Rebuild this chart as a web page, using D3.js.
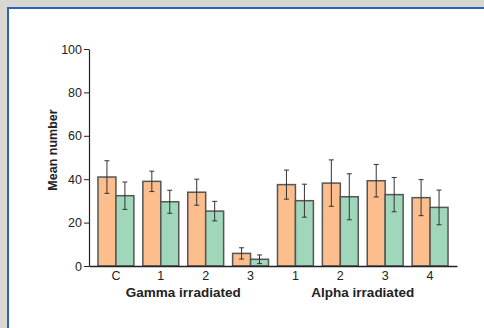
<!DOCTYPE html>
<html>
<head>
<meta charset="utf-8">
<script src="https://cdn.jsdelivr.net/npm/d3@7"></script>
<style>
  body { margin: 0; background: #d8d7d2; }
  svg { display: block; font-family: "Liberation Sans", Arial, sans-serif; }
</style>
</head>
<body>
<div id="chart"></div>
<script>
// categories along the x axis (gamma then alpha)
const categories = ["gC", "g1", "g2", "g3", "a1", "a2", "a3", "a4"];
const tickLabels = ["C", "1", "2", "3", "1", "2", "3", "4"];
const groupLabels = ["Gamma irradiated", "Alpha irradiated"];
const groupMembers = [["gC", "g1", "g2", "g3"], ["a1", "a2", "a3", "a4"]];

// series values
const orangeMean = [41, 39, 34, 5.8, 37.5, 38.2, 39.3, 31.5];
const orangeErr = [7.5, 4.7, 6, 2.6, 6.7, 10.7, 7.5, 8.3];
const greenMean = [32.4, 29.6, 25.3, 3.1, 30.1, 31.9, 32.9, 27];
const greenErr = [6.3, 5.3, 4.5, 2, 7.6, 10.6, 7.9, 8];

const yTicks = [0, 20, 40, 60, 80, 100];

const width = 484;
const height = 328;

const svg = d3.select("#chart").append("svg")
  .attr("width", width)
  .attr("height", height);

// white panel with blue frame
svg.append("rect")
  .attr("x", 8)
  .attr("y", 8)
  .attr("width", width + 10)
  .attr("height", height + 10)
  .style("fill", "#fff")
  .style("stroke", "#2b65b1")
  .style("stroke-width", 2);

const x = d3.scaleBand()
  .domain(categories)
  .range([89, 457])
  .paddingInner(0.2)
  .paddingOuter(0.2);

const sub = d3.scaleBand()
  .domain(["orange", "green"])
  .range([0, x.bandwidth()]);

const y = d3.scaleLinear()
  .domain([0, 100])
  .range([266, 49]);

const series = [
  { key: "orange", mean: orangeMean, err: orangeErr, color: "#fdbe8d" },
  { key: "green", mean: greenMean, err: greenErr, color: "#a0d7bb" }
];

// bars
series.forEach(s => {
  svg.selectAll(`.bar-${s.key}`)
    .data(categories)
    .join("rect")
    .attr("class", `bar-${s.key}`)
    .attr("x", d => x(d) + sub(s.key))
    .attr("y", (d, i) => y(s.mean[i]))
    .attr("width", sub.bandwidth())
    .attr("height", (d, i) => y(0) - y(s.mean[i]))
    .style("fill", s.color)
    .style("stroke", "#555")
    .style("stroke-width", 1.5);
});

// error bars
series.forEach(s => {
  const g = svg.selectAll(`.err-${s.key}`)
    .data(categories)
    .join("g")
    .attr("class", `err-${s.key}`)
    .attr("transform", d => `translate(${x(d) + sub(s.key) + sub.bandwidth() / 2},0)`)
    .style("stroke", "#333")
    .style("stroke-width", 1);

  g.append("line")
    .attr("y1", (d, i) => y(s.mean[i] + s.err[i]))
    .attr("y2", (d, i) => y(s.mean[i] - s.err[i]));
  g.append("line")
    .attr("x1", -2.5).attr("x2", 2.5)
    .attr("y1", (d, i) => y(s.mean[i] + s.err[i]))
    .attr("y2", (d, i) => y(s.mean[i] + s.err[i]));
  g.append("line")
    .attr("x1", -2.5).attr("x2", 2.5)
    .attr("y1", (d, i) => y(s.mean[i] - s.err[i]))
    .attr("y2", (d, i) => y(s.mean[i] - s.err[i]));
});

// y axis
const yAxis = svg.append("g")
  .attr("transform", "translate(89,0)")
  .call(d3.axisLeft(y).tickValues(yTicks).tickSize(5).tickSizeOuter(0));
yAxis.select(".domain").style("stroke", "#222").style("stroke-width", 1.2);
yAxis.selectAll(".tick line").style("stroke", "#222");
yAxis.selectAll("text")
  .style("font-size", "12.5px")
  .style("fill", "#222")
  .style("font-family", "Liberation Sans, Arial, sans-serif")
  .attr("x", -7);

// x axis
const xAxis = svg.append("g")
  .attr("transform", "translate(0,266)")
  .call(d3.axisBottom(x).tickSize(0).tickFormat((d, i) => tickLabels[i]));
xAxis.select(".domain").style("stroke", "#222").style("stroke-width", 1.5);
xAxis.selectAll("text")
  .style("font-size", "12.5px")
  .style("fill", "#222")
  .style("font-family", "Liberation Sans, Arial, sans-serif")
  .attr("y", 5);

// group labels
groupLabels.forEach((label, i) => {
  const members = groupMembers[i];
  const left = x(members[0]);
  const right = x(members[members.length - 1]) + x.bandwidth();
  svg.append("text")
    .attr("x", (left + right) / 2)
    .attr("y", 297)
    .style("text-anchor", "middle")
    .style("font-size", "13.5px")
    .style("font-weight", "bold")
    .style("fill", "#222")
    .text(label);
});

// y axis title
svg.append("text")
  .attr("transform", "translate(57,150) rotate(-90)")
  .style("text-anchor", "middle")
  .style("font-size", "12.5px")
  .style("font-weight", "bold")
  .style("fill", "#222")
  .text("Mean number");
</script>
</body>
</html>
